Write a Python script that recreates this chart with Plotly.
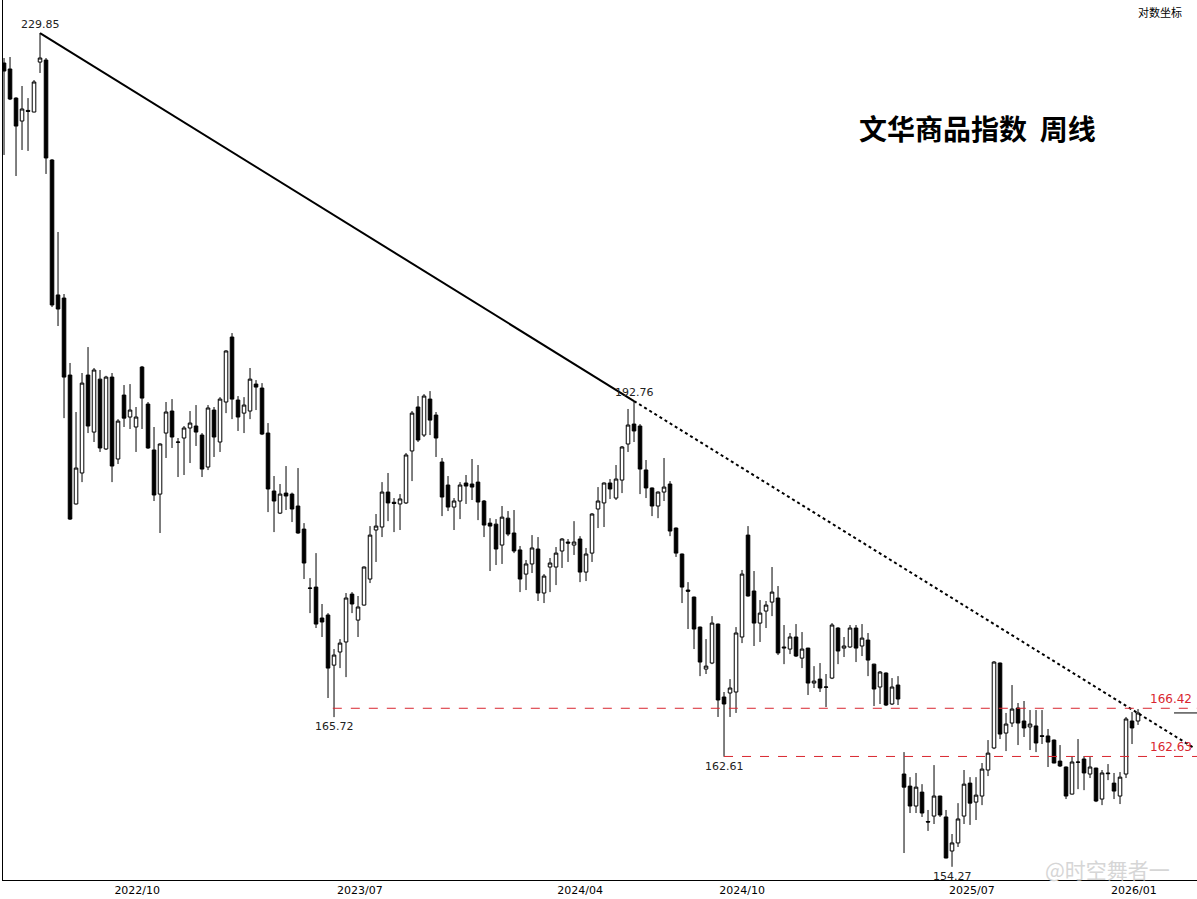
import math
import plotly.graph_objects as go

# Weekly OHLC of 文华商品指数
open_ = [226.58,225.93,222.81,220.38,221.50,221.33,226.68,226.90,216.31,202.79,
         202.49,195.17,183.50,186.24,195.17,189.92,194.79,188.39,194.98,187.49,
         193.31,191.29,190.38,195.92,192.48,188.30,184.37,189.83,191.84,189.02,
         189.38,190.29,190.47,189.65,186.77,191.93,189.02,192.67,198.75,192.85,
         191.65,191.84,194.33,193.96,189.83,184.64,182.70,184.46,184.37,183.32,
         181.31,176.27,176.35,173.76,174.01,169.89,170.96,171.78,175.76,173.59,
         174.84,177.03,181.23,181.49,184.55,183.65,183.50,183.59,188.21,192.21,
         189.65,192.94,191.47,187.22,185.17,183.23,183.76,185.35,185.26,185.43,
         183.76,181.83,181.74,179.93,182.26,180.97,179.51,177.45,178.31,179.59,
         175.85,178.05,178.05,179.42,180.19,179.93,180.45,177.62,179.24,183.06,
         183.59,185.35,184.02,185.61,188.84,190.65,190.47,186.51,184.91,183.32,
         184.55,185.26,181.40,179.16,176.10,175.51,173.01,169.57,170.06,173.26,
         167.32,167.64,167.72,172.19,180.79,176.02,173.34,174.34,175.09,175.43,
         171.37,171.20,172.19,170.46,171.28,168.44,168.76,168.10,168.84,172.93,
         171.28,171.37,172.93,171.45,171.94,169.97,168.12,169.25,166.76,168.28,
         161.27,160.34,158.82,159.88,157.65,158.06,159.58,157.99,155.44,156.04,
         158.06,160.57,159.12,159.58,161.58,163.29,170.06,164.46,165.25,166.44,
         165.41,164.94,165.02,164.25,164.23,163.91,162.27,161.81,159.73,162.20,
         162.43,161.27,161.73,159.35,161.35,160.57,159.58,161.27,165.41,165.41]
high = [227.12,227.23,222.90,224.10,222.81,224.74,229.85,227.12,216.40,208.99,
        202.88,196.30,191.75,195.36,197.80,195.83,195.64,195.10,195.36,191.10,
        194.24,194.33,192.21,196.02,192.67,190.38,188.90,192.67,192.94,189.38,
        190.47,191.84,192.39,189.83,192.39,192.21,193.12,197.50,199.13,193.22,
        193.12,195.83,194.70,194.42,190.74,185.97,185.26,186.86,184.50,186.68,
        181.83,177.11,179.24,174.93,174.17,171.20,172.02,175.85,175.93,175.60,
        178.10,181.57,182.62,185.43,186.24,184.02,184.37,188.03,191.84,193.22,
        193.40,193.68,191.75,187.58,185.97,184.02,185.43,186.06,187.49,186.95,
        183.85,182.26,182.18,183.32,182.88,182.97,179.85,178.65,180.79,180.62,
        177.45,178.82,179.76,180.53,180.45,182.00,180.70,179.68,182.70,184.99,
        185.40,185.70,186.95,188.66,192.03,192.76,190.65,187.40,184.95,184.60,
        187.58,185.52,181.45,179.20,176.77,175.55,173.05,172.02,173.92,173.30,
        167.72,168.76,173.01,177.80,181.57,177.71,175.26,175.18,178.05,176.44,
        173.18,172.52,173.26,172.60,171.30,169.81,170.06,169.17,173.34,173.00,
        172.19,173.18,173.18,173.26,172.52,170.00,169.41,169.30,168.84,169.00,
        162.97,161.03,161.35,160.49,158.52,161.96,159.60,158.52,156.71,159.04,
        161.58,161.03,161.03,162.12,163.91,170.22,170.10,166.05,168.28,166.84,
        167.00,166.28,166.28,166.28,164.78,163.95,163.52,161.85,162.66,163.99,
        162.66,162.58,161.75,161.58,162.04,161.35,161.42,165.73,166.12,166.36]
low = [216.83,222.60,214.66,217.35,217.25,221.30,225.50,214.87,201.62,199.80,
       191.19,182.10,183.45,185.43,189.83,189.02,188.12,188.30,185.43,187.04,
       190.38,190.20,188.12,190.20,188.40,183.76,180.97,187.58,188.48,185.88,
       186.06,187.13,188.66,185.88,186.50,187.67,188.12,191.65,191.10,190.02,
       189.83,191.10,191.93,189.65,182.79,181.05,182.62,182.97,181.92,180.90,
       177.03,174.17,172.93,172.19,167.24,165.72,169.65,168.92,174.17,172.19,
       174.80,176.69,178.48,180.62,182.00,181.05,181.23,183.50,185.52,189.02,
       189.47,189.65,187.67,182.44,182.88,181.23,182.18,183.50,183.85,182.09,
       180.62,177.71,178.22,178.31,180.70,179.24,175.93,176.10,177.54,175.18,
       175.01,175.93,176.52,177.97,178.48,179.08,176.77,176.86,178.48,181.40,
       181.49,183.94,183.85,184.46,188.12,189.02,184.37,184.02,182.44,182.26,
       183.76,180.70,178.91,175.01,172.85,171.20,169.00,169.17,169.97,165.73,
       162.61,165.73,166.05,171.69,175.55,171.45,171.78,172.93,173.92,170.71,
       169.97,170.79,170.55,169.65,167.48,168.04,167.72,166.52,168.76,169.97,
       170.55,171.30,170.14,170.63,169.00,166.60,166.76,166.60,166.68,166.68,
       155.29,158.29,158.29,157.99,156.94,157.46,157.99,154.90,154.27,155.74,
       157.46,157.39,157.76,158.89,161.11,163.20,163.99,163.05,164.94,163.52,
       164.15,163.13,162.97,163.60,161.81,162.10,161.81,159.35,159.70,160.11,
       160.03,160.96,159.12,158.89,160.80,159.35,158.97,160.96,163.60,165.10]
close = [225.71,222.71,219.85,221.65,221.40,224.53,227.12,216.52,201.82,201.43,
         194.98,182.18,186.68,194.42,190.47,195.64,188.48,194.98,186.86,190.92,
         191.19,191.93,191.29,193.03,188.48,184.29,188.84,191.75,189.47,189.00,
         190.29,190.74,189.92,186.59,192.12,189.47,192.94,197.43,192.94,191.29,
         192.39,194.79,194.05,189.74,184.82,183.76,184.37,184.20,183.06,180.97,
         178.39,176.25,173.26,173.43,169.65,170.71,171.69,175.43,174.93,174.68,
         178.05,180.79,181.57,184.55,183.59,183.55,183.94,187.85,191.65,189.20,
         193.22,191.01,189.38,184.11,183.23,183.76,185.17,185.08,184.99,183.67,
         181.66,181.57,179.59,182.35,180.88,179.42,177.03,178.31,179.68,175.85,
         177.28,178.39,179.24,180.45,180.10,180.19,177.62,179.16,182.62,183.76,
         185.35,184.82,185.70,188.57,190.56,190.02,186.59,184.91,183.32,184.55,
         184.99,181.14,179.24,176.35,176.00,172.85,170.14,169.81,173.34,167.08,
         166.76,168.04,172.52,177.45,175.60,173.34,174.17,174.84,175.93,170.88,
         171.30,172.19,170.63,171.20,168.44,168.60,168.04,168.12,173.18,171.04,
         171.45,172.93,171.28,172.10,170.30,167.96,169.33,166.68,168.12,167.16,
         160.26,158.82,160.26,158.29,157.61,159.58,158.14,154.92,156.04,157.84,
         160.49,159.04,159.65,161.65,162.89,170.14,164.38,165.17,166.36,165.25,
         164.86,165.17,163.68,164.20,163.75,162.12,161.89,159.58,162.20,162.18,
         161.35,161.81,159.20,161.35,161.30,159.96,161.03,165.57,164.86,166.05]

bars = list(range(len(close)))

# x-axis labels (bar index where each label sits)
tick_bars = [22.2, 59.3, 96.0, 123.0, 161.3, 188.3]
tick_text = ["2022/10", "2023/07", "2024/04", "2024/10", "2025/07", "2026/01"]

# marked extremes
peak1_bar, peak1 = 6, 229.85
peak2_bar, peak2 = 105, 192.76
low1_bar, low1 = 55, 165.72
low2_bar, low2 = 120, 162.61
low3_bar, low3 = 158, 154.27

# horizontal levels
level1 = 166.42
level2 = 162.63

x_min, x_max = -0.17, 198.83
y_lo, y_hi = 153.30, 233.51

fig = go.Figure()

fig.add_trace(go.Candlestick(
    x=bars, open=open_, high=high, low=low, close=close,
    increasing=dict(line=dict(color="black", width=1), fillcolor="white"),
    decreasing=dict(line=dict(color="black", width=1), fillcolor="black"),
    whiskerwidth=0, showlegend=False, hoverinfo="skip"))

# trendline: solid between the two peaks, dotted extension
slope = (math.log(peak2) - math.log(peak1)) / (peak2_bar - peak1_bar)
end_bar = 198.5
end_val = math.exp(math.log(peak2) + slope * (end_bar - peak2_bar))
fig.add_trace(go.Scatter(x=[peak1_bar, peak2_bar], y=[peak1, peak2], mode="lines",
                         line=dict(color="black", width=2), showlegend=False, hoverinfo="skip"))
fig.add_trace(go.Scatter(x=[peak2_bar, end_bar], y=[peak2, end_val], mode="lines",
                         line=dict(color="black", width=2, dash="dot"), showlegend=False, hoverinfo="skip"))

# red dashed support levels
fig.add_trace(go.Scatter(x=[low1_bar - 0.2, x_max], y=[level1, level1], mode="lines",
                         line=dict(color="#d9262f", width=1, dash="dash"), showlegend=False, hoverinfo="skip"))
fig.add_trace(go.Scatter(x=[low2_bar, x_max], y=[level2, level2], mode="lines",
                         line=dict(color="#d9262f", width=1, dash="dash"), showlegend=False, hoverinfo="skip"))

# last-price marker on the right edge
fig.add_trace(go.Scatter(x=[195.0, x_max], y=[close[-1], close[-1]], mode="lines",
                         line=dict(color="black", width=1), showlegend=False, hoverinfo="skip"))

lab_font = dict(family="DejaVu Sans", size=11, color="#222222")
ann = []
for b, v, above in [(peak1_bar, peak1, True), (peak2_bar, peak2, True),
                    (low1_bar, low1, False), (low2_bar, low2, False), (low3_bar, low3, False)]:
    ann.append(dict(x=b, y=math.log10(v), xref="x", yref="y", text=f"{v:.2f}",
                    showarrow=False, font=lab_font, xanchor="center",
                    yanchor="bottom" if above else "top", yshift=0 if above else -1))

for v in [level1, level2]:
    ann.append(dict(x=1.0, y=math.log10(v), xref="paper", yref="y", text=f"{v:.2f}",
                    showarrow=False, xanchor="right", yanchor="bottom", xshift=-3,
                    font=dict(family="DejaVu Sans", size=12, color="#d9262f")))

ann.append(dict(x=0.816, y=0.855, xref="paper", yref="paper", xanchor="center", yanchor="middle",
                text="<b>文华商品指数&nbsp;&nbsp;周线</b>", showarrow=False,
                font=dict(family="Noto Sans CJK SC", size=28, color="black")))
ann.append(dict(x=0.969, y=0.986, xref="paper", yref="paper", xanchor="center", yanchor="middle",
                text="对数坐标", showarrow=False,
                font=dict(family="Noto Sans CJK SC", size=11, color="black")))
ann.append(dict(x=0.925, y=0.012, xref="paper", yref="paper", xanchor="center", yanchor="middle",
                text="@时空舞者一", showarrow=False,
                font=dict(family="Noto Sans CJK SC", size=21, color="#d6d6d6")))

fig.update_layout(
    width=1197, height=899,
    margin=dict(l=3, r=0, t=0, b=19),
    paper_bgcolor="white", plot_bgcolor="white",
    boxgap=0.15,
    annotations=ann,
    xaxis=dict(range=[x_min, x_max], rangeslider=dict(visible=False), showgrid=False,
               zeroline=False, showline=True, linecolor="black", linewidth=1,
               tickmode="array", tickvals=tick_bars, ticktext=tick_text, ticks="",
               tickfont=dict(family="DejaVu Sans", size=11, color="black")),
    yaxis=dict(type="log", range=[math.log10(y_lo), math.log10(y_hi)], showgrid=False,
               zeroline=False, showline=True, linecolor="black", linewidth=1,
               showticklabels=False, ticks=""),
)

fig.write_html("out.html", config={"displayModeBar": False},
               post_script="document.body.style.margin='0';document.body.style.overflow='hidden';")
